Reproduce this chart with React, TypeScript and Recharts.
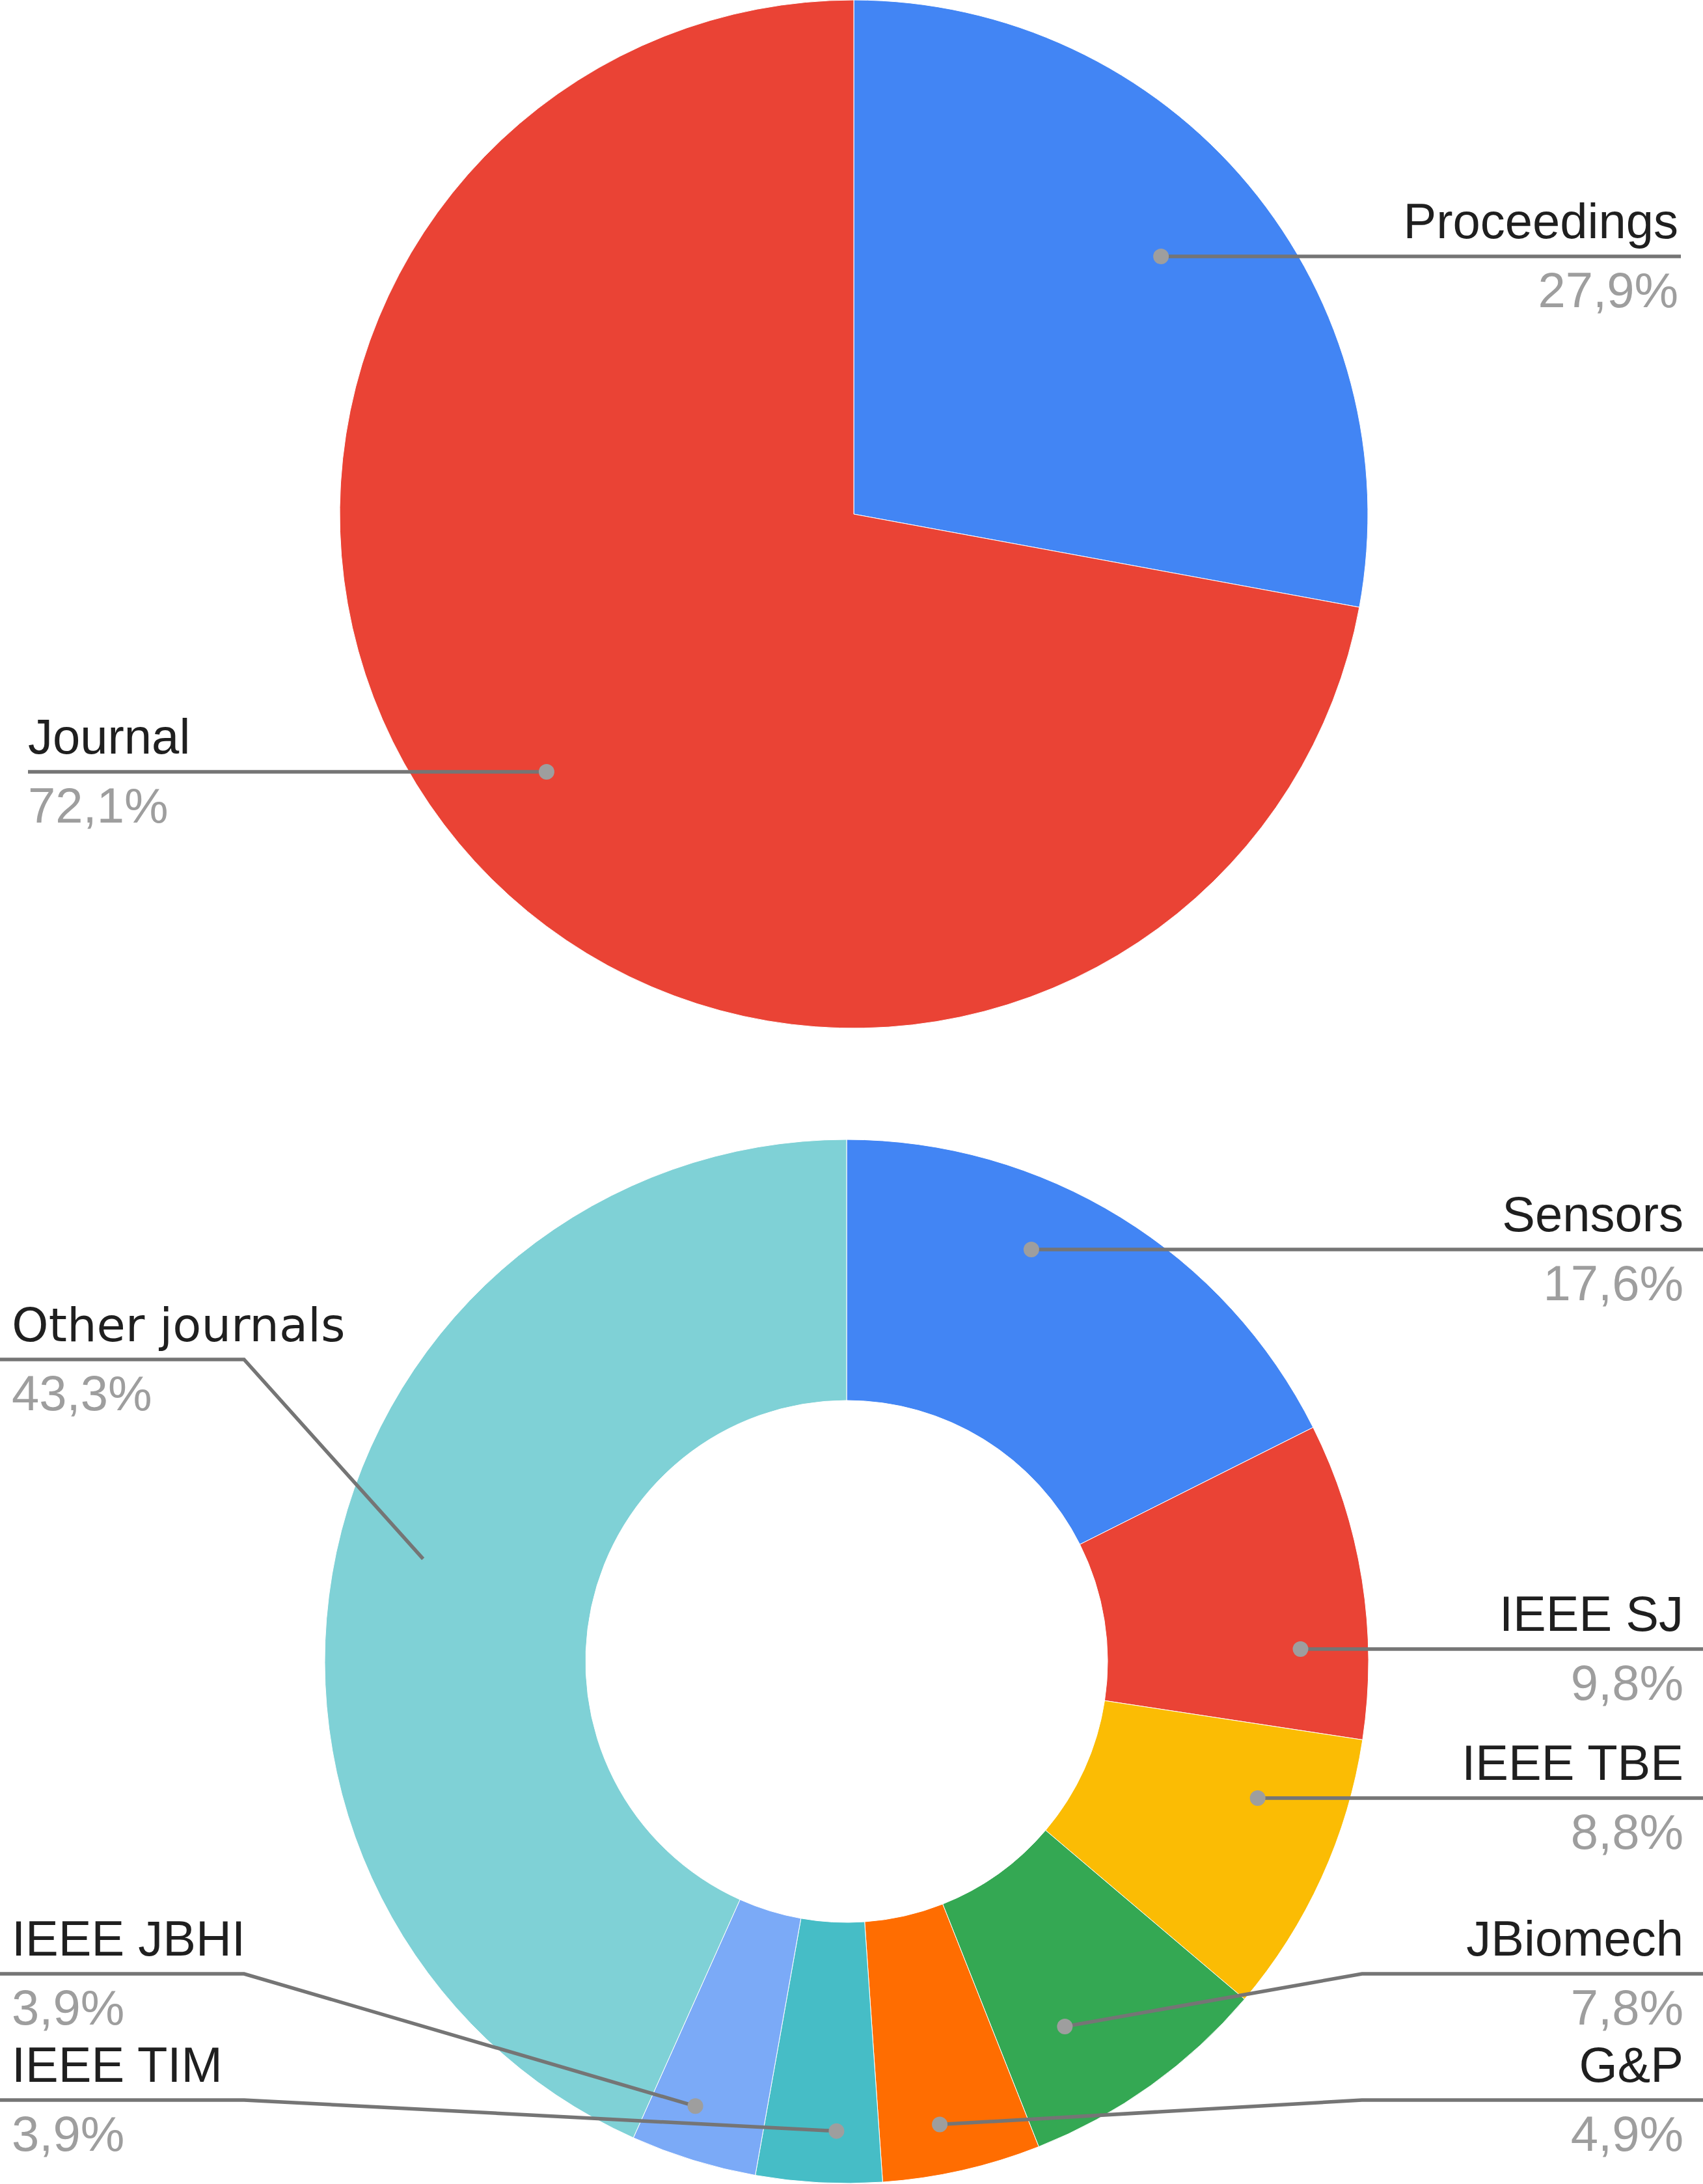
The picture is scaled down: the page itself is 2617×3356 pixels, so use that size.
import { PieChart, Pie, Cell } from 'recharts';

const W = 2617;
const H = 3356;

// top chart: publication type
const typeNames = ['Proceedings', 'Journal'];
const typeShares = [27.9, 72.1];
const typeColors = ['#4285F4', '#EA4335'];

// bottom chart: journals, clockwise from 12 o'clock
const journalNames = ['Sensors', 'IEEE SJ', 'IEEE TBE', 'JBiomech', 'G&P', 'IEEE TIM', 'IEEE JBHI', 'Other journals'];
const journalShares = [17.6, 9.8, 8.8, 7.8, 4.9, 3.9, 3.9, 43.3];
const journalColors = ['#4285F4', '#EA4335', '#FBBC04', '#34A853', '#FF6D01', '#46BDC6', '#7BAAF7', '#7FD1D6'];

const typeData = typeNames.map((name, i) => ({ name, value: typeShares[i] }));
const journalData = journalNames.map((name, i) => ({ name, value: journalShares[i] }));

// where the sheet put each label row (y of the leader line).
// r = dot distance as share of outer radius, pos = where along the slice the dot sits
type Row = {
  side: 'left' | 'right';
  lineY: number;
  r: number;
  bend?: boolean;
  pos?: number;
  dot?: boolean;
  font?: string;
  size?: number;
};

const typeRows: Record<string, Row> = {
  Proceedings: { side: 'right', lineY: 394, r: 0.78 },
  Journal: { side: 'left', lineY: 1186, r: 0.78 },
};

const journalRows: Record<string, Row> = {
  Sensors: { side: 'right', lineY: 1920, r: 0.865 },
  'IEEE SJ': { side: 'right', lineY: 2534, r: 0.87 },
  'IEEE TBE': { side: 'right', lineY: 2763, r: 0.83 },
  JBiomech: { side: 'right', lineY: 3033, bend: true, r: 0.815, pos: 0.67 },
  'G&P': { side: 'right', lineY: 3227, bend: true, r: 0.905, pos: 0.58 },
  'IEEE TIM': { side: 'left', lineY: 3227, bend: true, r: 0.9, pos: 0.37 },
  'IEEE JBHI': { side: 'left', lineY: 3033, bend: true, r: 0.9, pos: 0.62 },
  'Other journals': {
    side: 'left',
    lineY: 2089,
    bend: true,
    r: 0.835,
    pos: 0.51,
    dot: false,
    font: '"DejaVu Sans", sans-serif',
    size: 72,
  },
};

type LabelOpts = {
  lineLeft: number;
  lineRight: number;
  textLeft: number;
  textRight: number;
  bendLeft: number;
  bendRight: number;
};

const RAD = Math.PI / 180;
const FONT = '"Liberation Sans", Arial, sans-serif';

function makeLabel(rows: Record<string, Row>, o: LabelOpts) {
  return (props: any) => {
    const { cx, cy, midAngle, outerRadius, name, value, startAngle, endAngle } = props;
    const row = rows[name];
    if (!row) return null;
    const right = row.side === 'right';
    const edge = right ? o.lineRight : o.lineLeft;
    const r = outerRadius * row.r;
    let pts: number[][];
    let dotX: number;
    let dotY: number;
    if (row.bend) {
      let a = midAngle;
      if (row.pos !== undefined && startAngle !== undefined && endAngle !== undefined) {
        a = startAngle + row.pos * (endAngle - startAngle);
      }
      dotX = cx + r * Math.cos(-a * RAD);
      dotY = cy + r * Math.sin(-a * RAD);
      pts = [[dotX, dotY], [right ? o.bendRight : o.bendLeft, row.lineY], [edge, row.lineY]];
    } else {
      const dy = row.lineY - cy;
      const dx = Math.sqrt(Math.max(r * r - dy * dy, 0));
      dotX = right ? cx + dx : cx - dx;
      dotY = row.lineY;
      pts = [[dotX, dotY], [edge, row.lineY]];
    }
    const tx = right ? o.textRight : o.textLeft;
    const anchor = right ? 'end' : 'start';
    const pct = value.toFixed(1).replace('.', ',') + '%';
    return (
      <g>
        <polyline
          points={pts.map((p) => p.join(',')).join(' ')}
          fill="none"
          stroke="#757575"
          strokeWidth={5.5}
          strokeLinejoin="miter"
        />
        {row.dot !== false && <circle cx={dotX} cy={dotY} r={12} fill="#9E9E9E" />}
        <text x={tx} y={row.lineY - 28} textAnchor={anchor} fontFamily={row.font || FONT} fontSize={row.size || 76} fill="#1F1F1F">
          {name}
        </text>
        <text x={tx} y={row.lineY + 78} textAnchor={anchor} fontFamily={FONT} fontSize={76} fill="#9E9E9E">
          {pct}
        </text>
      </g>
    );
  };
}

const typeLabel = makeLabel(typeRows, {
  lineLeft: 43,
  lineRight: 2583,
  textLeft: 43,
  textRight: 2579,
  bendLeft: 375,
  bendRight: 2093,
});

const journalLabel = makeLabel(journalRows, {
  lineLeft: 0,
  lineRight: W,
  textLeft: 18,
  textRight: 2587,
  bendLeft: 375,
  bendRight: 2093,
});

export default function App() {
  return (
    <div style={{ position: 'absolute', left: 0, top: 0, width: W, height: H, background: '#fff' }}>
      <PieChart width={W} height={H} margin={{ top: 0, right: 0, bottom: 0, left: 0 }}>
        <Pie
          data={typeData}
          dataKey="value"
          nameKey="name"
          cx={1312}
          cy={790}
          outerRadius={790}
          startAngle={90}
          endAngle={-270}
          stroke="#fff"
          strokeWidth={1}
          label={typeLabel}
          labelLine={false}
          isAnimationActive={false}
        >
          {typeData.map((d, i) => (
            <Cell key={d.name} fill={typeColors[i]} />
          ))}
        </Pie>
        <Pie
          data={journalData}
          dataKey="value"
          nameKey="name"
          cx={1301}
          cy={2553}
          innerRadius={401}
          outerRadius={802}
          startAngle={90}
          endAngle={-270}
          stroke="#fff"
          strokeWidth={1}
          label={journalLabel}
          labelLine={false}
          isAnimationActive={false}
        >
          {journalData.map((d, i) => (
            <Cell key={d.name} fill={journalColors[i]} />
          ))}
        </Pie>
      </PieChart>
    </div>
  );
}
